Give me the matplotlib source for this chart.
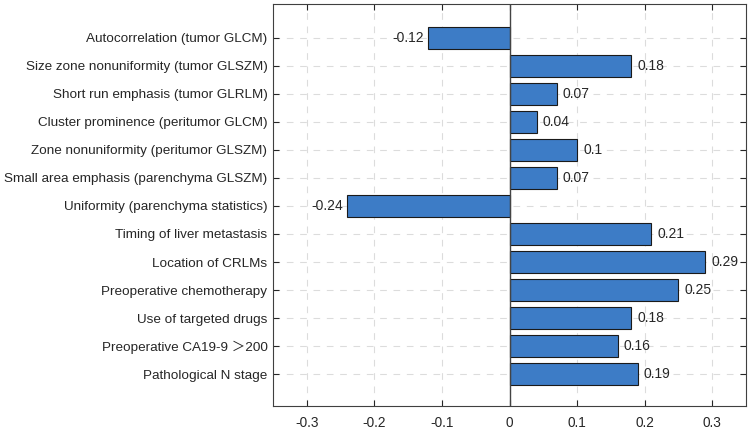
import matplotlib.pyplot as plt

plt.rcParams['font.family'] = ['Liberation Sans', 'Noto Sans CJK SC', 'DejaVu Sans']

features = [
    'Autocorrelation (tumor GLCM)',
    'Size zone nonuniformity (tumor GLSZM)',
    'Short run emphasis (tumor GLRLM)',
    'Cluster prominence (peritumor GLCM)',
    'Zone nonuniformity (peritumor GLSZM)',
    'Small area emphasis (parenchyma GLSZM)',
    'Uniformity (parenchyma statistics)',
    'Timing of liver metastasis',
    'Location of CRLMs',
    'Preoperative chemotherapy',
    'Use of targeted drugs',
    'Preoperative CA19-9 \uff1e200',
    'Pathological N stage',
]
coefs = [-0.12, 0.18, 0.07, 0.04, 0.1, 0.07, -0.24, 0.21, 0.29, 0.25, 0.18, 0.16, 0.19]
xticks = [-0.3, -0.2, -0.1, 0, 0.1, 0.2, 0.3]

fig = plt.figure(figsize=(7.5, 4.29), dpi=100)
ax = fig.add_axes([0.364, 0.0536, 0.6307, 0.9371])

ypos = list(range(len(features)))
ax.barh(ypos, coefs, height=0.8, color='#3D7CC6', edgecolor='#1a1a1a', linewidth=0.8, zorder=3)
ax.axvline(0, color='#444444', linewidth=1.0, zorder=4)

# value labels next to each bar
for y, v in zip(ypos, coefs):
    label = f'{v:g}'
    if v < 0:
        ax.text(v - 0.006, y, label, ha='right', va='center', fontsize=10, color='#262626')
    else:
        ax.text(v + 0.009, y, label, ha='left', va='center', fontsize=10, color='#262626')

ax.set_xlim(-0.35, 0.35)
ax.set_ylim(len(features) - 1 + 1.14, -1.21)
ax.set_yticks(ypos)
ax.set_yticklabels(features, fontsize=9.7, color='#262626')
ax.set_xticks(xticks)
ax.set_xticklabels([f'{t:g}' for t in xticks], fontsize=9.8, color='#262626')
ax.tick_params(direction='in', top=True, right=True, length=4, width=0.8, colors='#262626')
ax.tick_params(axis='y', pad=4)
ax.tick_params(axis='x', pad=7)
ax.grid(True, linestyle=(0, (6, 6)), color='#dcdcdc', linewidth=0.8, zorder=0)
for s in ax.spines.values():
    s.set_color('#404040')
    s.set_linewidth(0.8)

fig.savefig('out.png', dpi=100)
plt.close(fig)
